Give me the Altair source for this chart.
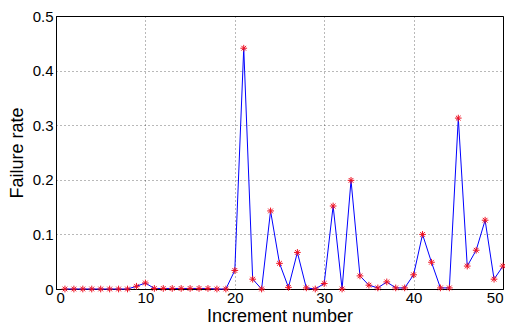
import altair as alt
import pandas as pd

increments = list(range(1, 51))
failure_rate = [
    0, 0, 0, 0, 0, 0, 0, 0, 0.005, 0.011,
    0.001, 0.001, 0.001, 0.001, 0.001, 0.001, 0.001, 0, 0, 0.034,
    0.441, 0.018, 0, 0.143, 0.047, 0.003, 0.067, 0.002, 0, 0.010,
    0.152, 0, 0.199, 0.024, 0.007, 0.002, 0.013, 0.002, 0.002, 0.026,
    0.100, 0.049, 0.002, 0.002, 0.313, 0.042, 0.071, 0.126, 0.018, 0.042,
]
x_ticks = [0, 10, 20, 30, 40, 50]
y_ticks = [0, 0.1, 0.2, 0.3, 0.4, 0.5]

df = pd.DataFrame({"x": increments, "y": failure_rate})

FONT = "Liberation Sans"

x_enc = alt.X(
    "x:Q",
    scale=alt.Scale(domain=[0, 50], nice=False, zero=False),
    axis=alt.Axis(
        title="Increment number", values=x_ticks, format="d",
        grid=True, gridColor="#000", gridDash=[1, 3], gridOpacity=0.55,
        domainColor="#000", ticks=False, labelPadding=1,
        labelFont=FONT, labelFontSize=15, labelColor="#000",
        titleFont=FONT, titleFontSize=18, titleFontWeight="normal",
        titleColor="#000", titlePadding=2,
    ),
)
y_enc = alt.Y(
    "y:Q",
    scale=alt.Scale(domain=[0, 0.5], nice=False),
    axis=alt.Axis(
        title="Failure rate", values=y_ticks, format="~g",
        grid=True, gridColor="#000", gridDash=[1, 3], gridOpacity=0.55,
        domainColor="#000", ticks=False, labelPadding=3,
        labelFont=FONT, labelFontSize=15, labelColor="#000",
        titleFont=FONT, titleFontSize=18, titleFontWeight="normal",
        titleColor="#000", titlePadding=6,
    ),
)

line = alt.Chart(df).mark_line(color="#0000ff", strokeWidth=1).encode(x=x_enc, y=y_enc)
pts = alt.Chart(df).mark_point(
    shape="M-1,0L1,0M0,-1L0,1M-0.7,-0.7L0.7,0.7M-0.7,0.7L0.7,-0.7",
    color="#ee1122", filled=False, strokeWidth=1, size=45, opacity=1,
).encode(x="x:Q", y="y:Q")

chart = (
    alt.layer(line, pts)
    .properties(
        width=447, height=273,
        autosize=alt.AutoSizeParams(type="none"),
        padding={"left": 48, "top": 8, "right": 2, "bottom": 35},
        background="#ffffff",
    )
    .configure_view(stroke="#000", strokeWidth=1)
)

chart.save("out.html", embed_options={"renderer": "svg", "actions": False})
